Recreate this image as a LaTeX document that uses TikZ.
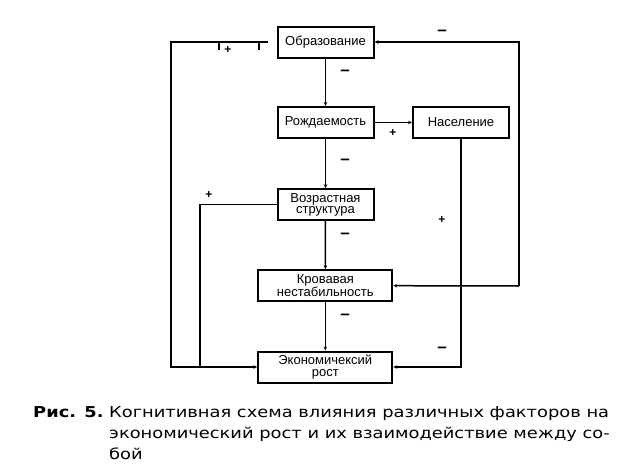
\documentclass[tikz,border=0pt]{standalone}
\usepackage{fontspec}
\setmainfont{Liberation Sans}
\newfontfamily\capfont[FakeStretch=1.19]{DejaVu Sans}
\usetikzlibrary{arrows.meta}

\begin{document}
\begin{tikzpicture}[x=1pt, y=-1pt,
		factor/.style={draw, line width=2pt, minimum width=96pt, minimum height=31pt, inner sep=0pt, align=center, font=\fontsize{13}{11.5}\selectfont},
		widefactor/.style={factor, minimum width=134pt},
		link/.style={line width=1.5pt, -{Stealth[length=4pt, width=3.5pt]}},
		wire/.style={line width=1.5pt},
		signminus/.style={inner sep=0pt, font=\bfseries\fontsize{17}{17}\selectfont},
		signplus/.style={inner sep=0pt, font=\bfseries\fontsize{12}{12}\selectfont},
		captext/.style={anchor=base west, inner sep=0pt, font=\capfont\fontsize{15}{21}\selectfont}]
	%%%%% START %%%%%
	
	\useasboundingbox (0, 0) rectangle (619, 471);
	
	\node[factor] (obr) at (325.5, 42) {Образование};
	\node[factor] (rozh) at (325.5, 122.5) {Рождаемость};
	\node[factor] (nas) at (461, 122.5) {Население};
	\node[factor] (vozr) at (325.5, 204.7) {Возрастная\\структура};
	\node[widefactor] (krov) at (325.3, 285.7) {Кровавая\\нестабильность};
	\node[widefactor] (econ) at (325.3, 367) {Экономичексий\\рост};
	
	\coordinate (ltop) at (171, 42);
	\coordinate (lend) at (268, 42);
	\coordinate (lmid) at (200, 204.7);
	\coordinate (rtop) at (519, 42);
	\coordinate (rbot) at (519, 286);
	
	\draw[link] (obr) -- (rozh);
	\draw[link] (rozh) -- (nas);
	\draw[link] (rozh) -- (vozr);
	\draw[link] (vozr) -- (krov);
	\draw[link] (krov) -- (econ);
	
	\draw[link] (nas.south) |- (econ.east);
	\draw[link] (rbot) -- (krov.east);
	\draw[link] (rbot) -- (rtop) -- (obr.east);
	
	\draw[link] (lend) -- (ltop) |- (econ.west);
	\draw[wire] (219, 42) -- ++(0, 8);
	\draw[wire] (259, 42) -- ++(0, 8);
	\draw[wire] (vozr.west) -- (lmid) -- (lmid |- econ.west);
	
	\node[signminus] (m1) at (345, 73) {–};
	\node[signminus] (m2) at (345, 162) {–};
	\node[signminus] (m3) at (345, 236) {–};
	\node[signminus] (m4) at (345, 317) {–};
	\node[signminus] (m5) at (442, 33) {–};
	\node[signminus] (m6) at (442, 350) {–};
	
	\node[signplus] (p1) at (228, 50) {+};
	\node[signplus] (p2) at (393, 133) {+};
	\node[signplus] (p3) at (209, 195) {+};
	\node[signplus] (p4) at (442, 220) {+};
	
	\node[captext, font=\capfont\bfseries\fontsize{15}{21}\selectfont] (capnum) at (33, 417) {Рис. 5.};
	\node[captext] (cap1) at (109, 417) {Когнитивная схема влияния различных факторов на};
	\node[captext] (cap2) at (109, 438) {экономический рост и их взаимодействие между со-};
	\node[captext] (cap3) at (109, 459) {бой};
	
	%%%%% END %%%%%
\end{tikzpicture}
\end{document}
